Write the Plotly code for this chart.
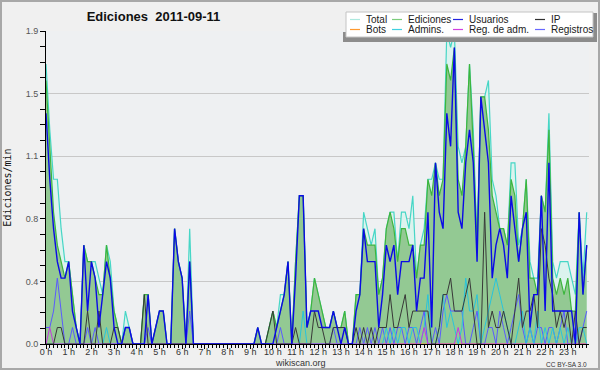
import plotly.graph_objects as go

# 10-minute slots, 2011-09-11 (edits per minute)
slot_minutes = list(range(0, 1440, 10))
hour_ticks = list(range(0, 1440, 60))
hour_labels = ["0 h", "1 h", "2 h", "3 h", "4 h", "5 h", "6 h", "7 h", "8 h", "9 h", "10 h", "11 h",
               "12 h", "13 h", "14 h", "15 h", "16 h", "17 h", "18 h", "19 h", "20 h", "21 h", "22 h", "23 h"]
y_tick_vals = [0.0, 0.38, 0.76, 1.14, 1.52, 1.9]
y_tick_text = ["0.0", "0.4", "0.8", "1.1", "1.5", "1.9"]

total = [1.7, 1.3, 1.0, 1.0, 0.7, 0.5, 0.5, 0.3, 0.1, 0.0, 0.6, 0.5,
         0.5, 0.5, 0.4, 0.3, 0.6, 0.5, 0.2, 0.1, 0.0, 0.2, 0.1, 0.0,
         0.0, 0.0, 0.3, 0.3, 0.0, 0.1, 0.2, 0.2, 0.0, 0.0, 0.7, 0.5,
         0.4, 0.0, 0.7, 0.0, 0.0, 0.0, 0.0, 0.0, 0.0, 0.0, 0.0, 0.0,
         0.0, 0.0, 0.0, 0.0, 0.0, 0.0, 0.0, 0.0, 0.1, 0.0, 0.0, 0.1,
         0.2, 0.1, 0.3, 0.3, 0.5, 0.0, 0.5, 0.9, 0.9, 0.1, 0.2, 0.4,
         0.3, 0.2, 0.1, 0.1, 0.2, 0.1, 0.1, 0.2, 0.0, 0.0, 0.3, 0.3,
         0.8, 0.7, 0.6, 0.7, 0.3, 0.4, 0.7, 0.8, 0.8, 0.5, 0.8, 0.8,
         0.7, 0.9, 0.4, 0.6, 0.7, 1.0, 1.0, 1.1, 1.0, 1.0, 1.9, 1.8,
         1.9, 1.2, 1.1, 1.2, 1.7, 1.3, 0.6, 1.5, 1.5, 1.6, 1.0, 0.9,
         0.7, 0.7, 0.6, 1.1, 1.1, 0.6, 0.7, 1.0, 0.5, 0.4, 0.4, 0.9,
         0.8, 1.4, 0.5, 0.4, 0.5, 0.5, 0.5, 0.4, 0.3, 0.8, 0.4, 0.8]

ediciones = [1.6, 1.2, 0.8, 0.6, 0.5, 0.4, 0.5, 0.3, 0.1, 0.0, 0.6, 0.5,
             0.5, 0.4, 0.3, 0.3, 0.6, 0.4, 0.2, 0.1, 0.0, 0.1, 0.1, 0.0,
             0.0, 0.0, 0.3, 0.3, 0.0, 0.1, 0.2, 0.2, 0.0, 0.0, 0.7, 0.5,
             0.4, 0.0, 0.5, 0.0, 0.0, 0.0, 0.0, 0.0, 0.0, 0.0, 0.0, 0.0,
             0.0, 0.0, 0.0, 0.0, 0.0, 0.0, 0.0, 0.0, 0.1, 0.0, 0.0, 0.1,
             0.2, 0.1, 0.2, 0.3, 0.5, 0.0, 0.5, 0.9, 0.9, 0.1, 0.2, 0.4,
             0.3, 0.2, 0.1, 0.1, 0.2, 0.1, 0.1, 0.2, 0.0, 0.0, 0.3, 0.3,
             0.7, 0.6, 0.6, 0.6, 0.3, 0.4, 0.7, 0.8, 0.7, 0.5, 0.7, 0.7,
             0.6, 0.6, 0.4, 0.6, 0.6, 1.0, 0.9, 1.1, 0.9, 1.0, 1.7, 1.6,
             1.8, 1.0, 0.9, 1.2, 1.7, 1.2, 0.6, 1.5, 1.5, 1.3, 0.9, 0.8,
             0.7, 0.7, 0.6, 1.0, 0.9, 0.5, 0.7, 1.0, 0.4, 0.4, 0.3, 0.9,
             0.8, 1.3, 0.4, 0.3, 0.4, 0.3, 0.4, 0.2, 0.2, 0.8, 0.3, 0.6]

usuarios = [1.4, 1.0, 0.7, 0.5, 0.4, 0.4, 0.5, 0.2, 0.1, 0.0, 0.6, 0.2,
            0.5, 0.4, 0.1, 0.3, 0.5, 0.4, 0.1, 0.0, 0.0, 0.1, 0.1, 0.0,
            0.0, 0.0, 0.0, 0.3, 0.0, 0.1, 0.2, 0.2, 0.0, 0.0, 0.7, 0.5,
            0.4, 0.0, 0.5, 0.0, 0.0, 0.0, 0.0, 0.0, 0.0, 0.0, 0.0, 0.0,
            0.0, 0.0, 0.0, 0.0, 0.0, 0.0, 0.0, 0.0, 0.1, 0.0, 0.0, 0.0,
            0.0, 0.1, 0.2, 0.3, 0.5, 0.0, 0.4, 0.9, 0.9, 0.1, 0.2, 0.2,
            0.2, 0.1, 0.1, 0.1, 0.2, 0.1, 0.0, 0.1, 0.0, 0.0, 0.2, 0.3,
            0.7, 0.5, 0.5, 0.5, 0.1, 0.3, 0.6, 0.5, 0.6, 0.3, 0.5, 0.5,
            0.5, 0.6, 0.2, 0.4, 0.4, 0.8, 0.1, 1.1, 0.8, 0.7, 1.4, 1.2,
            1.8, 0.8, 0.7, 1.1, 1.3, 1.1, 0.5, 1.5, 1.3, 1.1, 0.4, 0.6,
            0.7, 0.6, 0.4, 0.9, 0.7, 0.5, 0.7, 0.8, 0.1, 0.3, 0.3, 0.9,
            0.2, 1.1, 0.2, 0.2, 0.2, 0.2, 0.2, 0.2, 0.0, 0.8, 0.3, 0.6]

ip = [0.0, 0.0, 0.0, 0.1, 0.1, 0.0, 0.0, 0.0, 0.0, 0.0, 0.0, 0.2,
      0.0, 0.0, 0.2, 0.0, 0.0, 0.0, 0.1, 0.1, 0.0, 0.0, 0.0, 0.0,
      0.0, 0.0, 0.3, 0.0, 0.0, 0.0, 0.0, 0.0, 0.0, 0.0, 0.0, 0.0,
      0.0, 0.0, 0.0, 0.0, 0.0, 0.0, 0.0, 0.0, 0.0, 0.0, 0.0, 0.0,
      0.0, 0.0, 0.0, 0.0, 0.0, 0.0, 0.0, 0.0, 0.0, 0.0, 0.0, 0.1,
      0.2, 0.0, 0.0, 0.0, 0.0, 0.0, 0.1, 0.0, 0.0, 0.0, 0.0, 0.2,
      0.1, 0.1, 0.0, 0.0, 0.1, 0.1, 0.1, 0.1, 0.0, 0.0, 0.1, 0.0,
      0.1, 0.0, 0.1, 0.0, 0.1, 0.1, 0.1, 0.3, 0.1, 0.1, 0.2, 0.3,
      0.1, 0.2, 0.2, 0.2, 0.2, 0.2, 0.0, 0.0, 0.1, 0.3, 0.3, 0.4,
      0.2, 0.2, 0.2, 0.3, 0.4, 0.2, 0.0, 0.0, 0.8, 0.1, 0.2, 0.1,
      0.1, 0.2, 0.1, 0.0, 0.2, 0.4, 0.1, 0.2, 0.2, 0.3, 0.1, 0.7,
      0.6, 0.4, 0.3, 0.1, 0.2, 0.1, 0.2, 0.0, 0.2, 0.0, 0.1, 0.1]

bots = [0.0] * 144

admins = [0.0, 0.0, 0.0, 0.0, 0.0, 0.0, 0.0, 0.0, 0.0, 0.0, 0.0, 0.0,
          0.0, 0.0, 0.0, 0.0, 0.1, 0.0, 0.0, 0.0, 0.0, 0.0, 0.0, 0.0,
          0.0, 0.0, 0.0, 0.0, 0.0, 0.0, 0.0, 0.0, 0.0, 0.0, 0.0, 0.0,
          0.0, 0.0, 0.0, 0.0, 0.0, 0.0, 0.0, 0.0, 0.0, 0.0, 0.0, 0.0,
          0.0, 0.0, 0.0, 0.0, 0.0, 0.0, 0.0, 0.0, 0.0, 0.0, 0.0, 0.0,
          0.0, 0.0, 0.0, 0.0, 0.0, 0.0, 0.0, 0.0, 0.2, 0.0, 0.0, 0.0,
          0.0, 0.0, 0.0, 0.0, 0.0, 0.0, 0.0, 0.0, 0.0, 0.0, 0.0, 0.0,
          0.0, 0.0, 0.0, 0.0, 0.0, 0.0, 0.1, 0.0, 0.1, 0.0, 0.1, 0.1,
          0.0, 0.1, 0.1, 0.0, 0.1, 0.3, 0.0, 0.0, 0.1, 0.3, 0.1, 0.2,
          0.1, 0.0, 0.1, 0.4, 0.2, 0.2, 0.3, 0.0, 0.1, 0.2, 0.3, 0.4,
          0.3, 0.2, 0.1, 0.0, 0.0, 0.1, 0.2, 0.0, 0.1, 0.0, 0.2, 0.0,
          0.1, 0.0, 0.1, 0.0, 0.1, 0.0, 0.1, 0.0, 0.0, 0.1, 0.1, 0.0]

reg_adm = [0.0, 0.1, 0.0, 0.0, 0.0, 0.0, 0.0, 0.0, 0.0, 0.0, 0.0, 0.0,
           0.0, 0.0, 0.0, 0.0, 0.0, 0.0, 0.0, 0.0, 0.0, 0.0, 0.0, 0.0,
           0.0, 0.0, 0.0, 0.0, 0.0, 0.0, 0.0, 0.0, 0.0, 0.0, 0.0, 0.0,
           0.0, 0.0, 0.0, 0.0, 0.0, 0.0, 0.0, 0.0, 0.0, 0.0, 0.0, 0.0,
           0.0, 0.0, 0.0, 0.0, 0.0, 0.0, 0.0, 0.0, 0.0, 0.0, 0.0, 0.0,
           0.0, 0.0, 0.0, 0.0, 0.0, 0.0, 0.0, 0.0, 0.0, 0.0, 0.0, 0.0,
           0.0, 0.0, 0.0, 0.0, 0.0, 0.0, 0.0, 0.0, 0.0, 0.0, 0.0, 0.0,
           0.0, 0.0, 0.0, 0.0, 0.0, 0.0, 0.0, 0.0, 0.0, 0.0, 0.0, 0.0,
           0.0, 0.0, 0.0, 0.0, 0.1, 0.0, 0.0, 0.0, 0.0, 0.0, 0.0, 0.0,
           0.0, 0.1, 0.0, 0.0, 0.0, 0.0, 0.0, 0.0, 0.0, 0.0, 0.0, 0.0,
           0.0, 0.0, 0.0, 0.0, 0.0, 0.0, 0.0, 0.0, 0.0, 0.0, 0.0, 0.0,
           0.0, 0.0, 0.0, 0.0, 0.0, 0.0, 0.0, 0.0, 0.0, 0.0, 0.0, 0.0]

registros = [0.1, 0.1, 0.2, 0.4, 0.2, 0.0, 0.0, 0.1, 0.0, 0.0, 0.0, 0.1,
             0.0, 0.1, 0.0, 0.0, 0.0, 0.0, 0.0, 0.0, 0.0, 0.1, 0.1, 0.0,
             0.0, 0.0, 0.0, 0.1, 0.0, 0.0, 0.0, 0.0, 0.0, 0.0, 0.0, 0.0,
             0.0, 0.0, 0.2, 0.0, 0.0, 0.0, 0.0, 0.0, 0.0, 0.0, 0.0, 0.0,
             0.0, 0.0, 0.0, 0.0, 0.0, 0.0, 0.0, 0.0, 0.0, 0.0, 0.0, 0.0,
             0.0, 0.0, 0.1, 0.0, 0.0, 0.0, 0.0, 0.0, 0.0, 0.0, 0.0, 0.0,
             0.0, 0.0, 0.0, 0.0, 0.1, 0.0, 0.0, 0.0, 0.0, 0.0, 0.0, 0.1,
             0.0, 0.1, 0.0, 0.1, 0.0, 0.1, 0.0, 0.1, 0.0, 0.1, 0.1, 0.0,
             0.1, 0.1, 0.0, 0.1, 0.2, 0.0, 0.0, 0.1, 0.0, 0.2, 0.3, 0.2,
             0.2, 0.2, 0.2, 0.0, 0.0, 0.1, 0.2, 0.0, 0.0, 0.1, 0.1, 0.0,
             0.2, 0.1, 0.0, 0.1, 0.2, 0.3, 0.1, 0.0, 0.1, 0.0, 0.1, 0.1,
             0.0, 0.1, 0.1, 0.0, 0.1, 0.2, 0.0, 0.0, 0.1, 0.0, 0.1, 0.2]

for s in (total, ediciones, usuarios, ip, bots, admins, reg_adm, registros):
    assert len(s) == len(slot_minutes)

# ---- plot area geometry (pixels) ----
PL, PR, PT, PB = 46, 589, 31, 344
W, H = PR - PL, PB - PT


def fx(px):
    return (px - PL) / W


def fy(py):
    return (PB - py) / H


fig = go.Figure()


def add_line(y, color, width=1.0, fill=None, fillcolor=None, name=""):
    fig.add_trace(go.Scatter(
        x=slot_minutes, y=y, mode="lines", name=name,
        line=dict(color=color, width=width, shape="linear"),
        fill=fill, fillcolor=fillcolor, hoverinfo="skip"))


add_line(total, "#46d6c6", 1.2, "tozeroy", "#dcf3ee", "Total")
add_line(ediciones, "#3db53d", 1.2, "tozeroy", "#93c993", "Ediciones")
add_line(bots, "#ff9a30", 1.0, name="Bots")
add_line(registros, "#5a5aff", 1.0, name="Registros")
add_line(admins, "#28c4dc", 1.0, name="Admins.")
add_line(reg_adm, "#c838e0", 1.0, name="Reg. de adm.")
add_line(ip, "#383838", 1.0, name="IP")
add_line(usuarios, "#0a0ae6", 1.4, name="Usuarios")

shapes = []
annotations = []

# outer frame
shapes.append(dict(type="rect", xref="paper", yref="paper",
                   x0=fx(1), x1=fx(599), y0=fy(369), y1=fy(1),
                   line=dict(color="#a8a8a8", width=2), fillcolor="rgba(0,0,0,0)", layer="above"))

# legend box with shadow
shadow = "#8c8c8c"
for (x0, y0, x1, y1) in [(343, 37, 597, 42), (593, 13, 597, 42), (343, 32, 346, 42)]:
    shapes.append(dict(type="rect", xref="paper", yref="paper",
                       x0=fx(x0), x1=fx(x1), y0=fy(y1), y1=fy(y0),
                       line=dict(width=0), fillcolor=shadow, layer="above"))
shapes.append(dict(type="rect", xref="paper", yref="paper",
                   x0=fx(346), x1=fx(593), y0=fy(37), y1=fy(12),
                   line=dict(color="#c4c4c4", width=1), fillcolor="#ffffff", layer="above"))

legend_items = [
    ("Total", "#ade9df", 350, 19.5), ("Ediciones", "#7ccd7c", 392, 19.5),
    ("Usuarios", "#2424e0", 453, 19.5), ("IP", "#303030", 535, 19.5),
    ("Bots", "#ff9a30", 350, 29.5), ("Admins.", "#40d0e0", 392, 29.5),
    ("Reg. de adm.", "#d040e0", 453, 29.5), ("Registros", "#6868ff", 535, 29.5),
]
for label, color, lx, ly in legend_items:
    shapes.append(dict(type="line", xref="paper", yref="paper",
                       x0=fx(lx), x1=fx(lx + 10), y0=fy(ly), y1=fy(ly),
                       line=dict(color=color, width=1.2), layer="above"))
    annotations.append(dict(xref="paper", yref="paper", x=fx(lx + 14), y=fy(ly),
                            xanchor="left", yanchor="middle", showarrow=False, text=label,
                            font=dict(family="Liberation Sans", size=10, color="#1a1a1a")))

annotations.append(dict(xref="paper", yref="paper", x=fx(300), y=fy(363),
                        xanchor="center", yanchor="middle", showarrow=False, text="wikiscan.org",
                        font=dict(family="Liberation Sans", size=9, color="#333333")))
annotations.append(dict(xref="paper", yref="paper", x=fx(589), y=fy(364),
                        xanchor="right", yanchor="middle", showarrow=False, text="CC BY-SA 3.0",
                        font=dict(family="Liberation Sans", size=6.5, color="#333333")))

fig.update_layout(
    width=600, height=370, autosize=False,
    margin=dict(l=PL, r=600 - PR, t=PT, b=370 - PB, pad=0),
    paper_bgcolor="#f0f0f0", plot_bgcolor="#eef0f2",
    showlegend=False,
    font=dict(family="Liberation Sans", size=9, color="#333333"),
    title=dict(text="Ediciones\u00a0 2011-09-11", x=153.5 / 600, xanchor="center",
               xref="container", y=1 - 16 / 370, yanchor="middle", yref="container",
               font=dict(family="Liberation Sans", size=13, color="#111111", weight="bold")),
    shapes=shapes, annotations=annotations,
)

fig.update_xaxes(
    range=[0, 1436], tickmode="array", tickvals=hour_ticks, ticktext=hour_labels,
    ticks="outside", ticklen=4, tickcolor="#000000", tickwidth=1,
    showline=True, linecolor="#000000", linewidth=1, mirror=False,
    showgrid=False, zeroline=False, automargin=False, ticklabelstandoff=-5,
    tickfont=dict(family="Liberation Sans", size=9, color="#333333"),
    minor=dict(dtick=10, tick0=0, ticks="outside", ticklen=3, tickcolor="#000000", showgrid=False),
    fixedrange=True,
)
fig.update_yaxes(
    range=[0, 1.9], tickmode="array", tickvals=y_tick_vals, ticktext=y_tick_text,
    ticks="outside", ticklen=5, tickcolor="#000000", tickwidth=1,
    showline=True, linecolor="#000000", linewidth=1,
    showgrid=True, gridcolor="#c8c8c8", gridwidth=1, zeroline=False, automargin=False,
    tickfont=dict(family="Liberation Sans", size=9, color="#555555"),
    minor=dict(dtick=0.095, tick0=0, ticks="outside", ticklen=5, tickcolor="#000000", showgrid=False),
    title=dict(text="Ediciones/min", standoff=12,
               font=dict(family="DejaVu Sans Mono", size=10, color="#111111")),
    fixedrange=True,
)

fig.write_html("out.html", config={"displayModeBar": False},
               post_script="document.body.style.margin='0';document.body.style.padding='0';"
                           "document.documentElement.style.overflow='hidden';")
